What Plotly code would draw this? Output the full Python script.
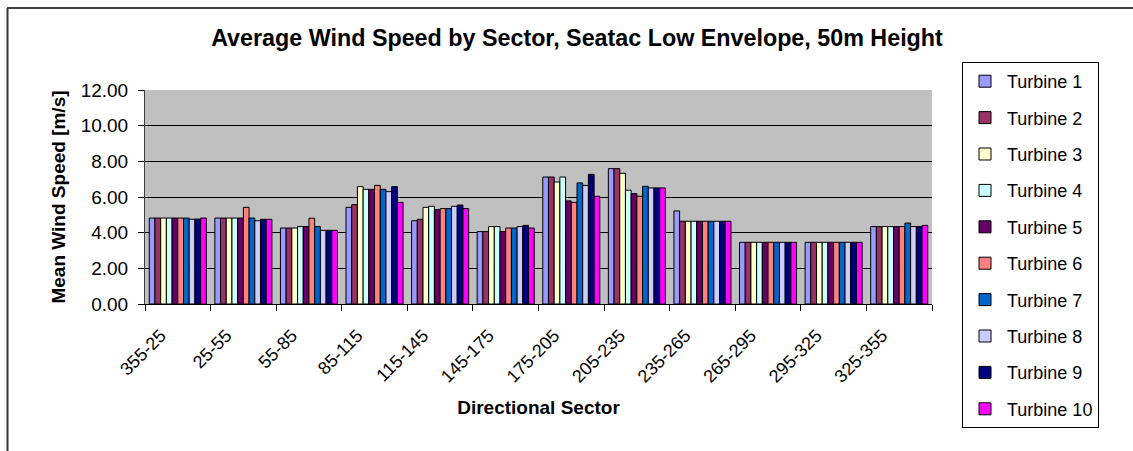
import plotly.graph_objects as go

# Directional sectors (degrees)
sectors = ["355-25", "25-55", "55-85", "85-115", "115-145", "145-175",
           "175-205", "205-235", "235-265", "265-295", "295-325", "325-355"]

# Mean wind speed [m/s] per turbine, one value per sector
turbine_1 = [4.82, 4.82, 4.26, 5.42, 4.67, 4.06, 7.12, 7.59, 5.22, 3.46, 3.46, 4.34]
turbine_2 = [4.82, 4.82, 4.26, 5.57, 4.75, 4.06, 7.12, 7.59, 4.64, 3.46, 3.46, 4.34]
turbine_3 = [4.82, 4.82, 4.26, 6.58, 5.42, 4.34, 6.84, 7.33, 4.64, 3.46, 3.46, 4.34]
turbine_4 = [4.82, 4.82, 4.34, 6.43, 5.48, 4.34, 7.12, 6.38, 4.64, 3.46, 3.46, 4.34]
turbine_5 = [4.82, 4.82, 4.34, 6.43, 5.29, 4.06, 5.78, 6.19, 4.64, 3.46, 3.46, 4.34]
turbine_6 = [4.82, 5.42, 4.81, 6.65, 5.35, 4.26, 5.70, 6.04, 4.64, 3.46, 3.46, 4.34]
turbine_7 = [4.82, 4.82, 4.34, 6.43, 5.35, 4.26, 6.79, 6.60, 4.64, 3.46, 3.46, 4.54]
turbine_8 = [4.75, 4.67, 4.13, 6.30, 5.48, 4.34, 6.65, 6.51, 4.64, 3.46, 3.46, 4.34]
turbine_9 = [4.76, 4.75, 4.13, 6.58, 5.55, 4.41, 7.27, 6.51, 4.64, 3.46, 3.46, 4.34]
turbine_10 = [4.82, 4.75, 4.13, 5.70, 5.35, 4.26, 6.04, 6.51, 4.64, 3.46, 3.46, 4.41]

series_names = [f"Turbine {i}" for i in range(1, 11)]
series_values = [turbine_1, turbine_2, turbine_3, turbine_4, turbine_5,
                 turbine_6, turbine_7, turbine_8, turbine_9, turbine_10]
series_colors = ["#9999FF", "#993366", "#FFFFCC", "#CCFFFF", "#660066",
                 "#FF8080", "#0066CC", "#CCCCFF", "#000080", "#FF00FF"]

y_ticks = [0, 2, 4, 6, 8, 10, 12]

FONT = "Arial, Liberation Sans, sans-serif"

fig = go.Figure()
for name, vals, col in zip(series_names, series_values, series_colors):
    fig.add_trace(go.Bar(
        x=sectors, y=vals, name=name, legendgroup=name,
        marker=dict(color=col, line=dict(color="black", width=1)),
    ))

W, H = 1133, 451
L, R, T, B = 145, 201, 90, 147
pw, ph = W - L - R, H - T - B


def px_x(px):
    return (px - L) / pw


def px_y(py):
    return (H - B - py) / ph


fig.update_layout(
    width=W, height=H,
    margin=dict(l=L, r=R, t=T, b=B),
    paper_bgcolor="white",
    plot_bgcolor="#C0C0C0",
    barmode="group",
    bargap=0.13,
    bargroupgap=0,
    font=dict(family=FONT, color="black", size=18),
    title=dict(
        text="<b>Average Wind Speed by Sector, Seatac Low Envelope, 50m Height</b>",
        font=dict(family=FONT, size=23.3, color="black"),
        x=px_x(577), xref="paper", xanchor="center",
        y=1 - 38 / H, yref="container", yanchor="middle",
    ),
    xaxis=dict(
        type="category",
        tickangle=-45,
        ticks="outside", ticklen=6, tickcolor="black",
        tickson="boundaries",
        ticklabelstandoff=13,
        ticklabelshift=-17,
        showline=True, linecolor="black", linewidth=1,
        tickfont=dict(family=FONT, size=18),
        title=dict(text="<b>Directional Sector</b>",
                   font=dict(family=FONT, size=19), standoff=15),
        showgrid=False,
    ),
    yaxis=dict(
        range=[0, 12],
        tickvals=y_ticks,
        tickformat=".2f",
        ticks="outside", ticklen=6, tickcolor="black",
        ticklabelstandoff=6,
        showline=True, linecolor="#404040", linewidth=1,
        showgrid=True, gridcolor="black", gridwidth=1,
        zeroline=False,
        tickfont=dict(family=FONT, size=19),
        title=dict(text="<b>Mean Wind Speed [m/s]</b>",
                   font=dict(family=FONT, size=19), standoff=10),
    ),
    legend=dict(
        x=px_x(962), xanchor="left",
        y=px_y(62), yanchor="top",
        maxheight=420,
        bordercolor="black", borderwidth=1,
        bgcolor="white",
        font=dict(family=FONT, size=18),
        tracegroupgap=10,
        itemwidth=34,
    ),
    shapes=[
        # chart frame: top and left edges
        dict(type="line", xref="paper", yref="paper",
             x0=px_x(7), x1=px_x(1133), y0=px_y(8), y1=px_y(8),
             line=dict(color="black", width=1.5)),
        dict(type="line", xref="paper", yref="paper",
             x0=px_x(7.5), x1=px_x(7.5), y0=px_y(8), y1=px_y(451),
             line=dict(color="#333333", width=2)),
    ],
)

fig.write_html("out.html")
